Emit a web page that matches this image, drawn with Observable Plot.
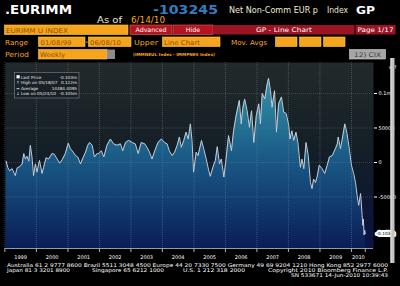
<!DOCTYPE html>
<html>
<head>
<meta charset="utf-8">
<script src="https://cdn.jsdelivr.net/npm/d3@7"></script>
<script src="https://cdn.jsdelivr.net/npm/@observablehq/plot@0.6"></script>
<style>
  html, body { margin: 0; padding: 0; background: #000; width: 400px; height: 286px; overflow: hidden; }
  #wrap { position: relative; width: 400px; height: 286px; background: #000; }
  #chart { position: absolute; left: 0; top: 62px; }
  #chrome { position: absolute; left: 0; top: 0; }
  text { font-family: "DejaVu Sans", sans-serif; }
</style>
</head>
<body>
<div id="wrap">
  <svg width="0" height="0" style="position:absolute">
    <defs>
      <linearGradient id="bgGrad" x1="0" y1="0" x2="0" y2="1">
        <stop offset="0" stop-color="#222a2b"/>
        <stop offset="0.4" stop-color="#162026"/>
        <stop offset="0.62" stop-color="#111b2c"/>
        <stop offset="0.82" stop-color="#0c1638"/>
        <stop offset="1" stop-color="#0a1548"/>
      </linearGradient>
      <linearGradient id="areaGrad" gradientUnits="userSpaceOnUse" x1="0" y1="0" x2="0" y2="186">
        <stop offset="0" stop-color="#3f98b2"/>
        <stop offset="0.2" stop-color="#2c83a0"/>
        <stop offset="0.5" stop-color="#1b5c87"/>
        <stop offset="0.75" stop-color="#113d70"/>
        <stop offset="1" stop-color="#0b1d56"/>
      </linearGradient>
    </defs>
  </svg>
  <div id="chart"></div>
  <svg id="chrome" width="400" height="286"></svg>
</div>
<script>
// ---- data (net non-commercial EUR positions, thousands of contracts)
const weekYears = [
  1999.04,1999.09,1999.15,1999.23,1999.28,1999.33,1999.39,1999.47,1999.55,1999.60,1999.65,1999.70,1999.76,1999.81,1999.86,1999.91,1999.97,
  2000.02,2000.10,2000.18,2000.23,2000.31,2000.39,2000.50,2000.57,2000.66,2000.74,2000.82,2000.92,
  2001.01,2001.08,2001.17,2001.24,2001.31,2001.40,2001.48,2001.56,2001.63,2001.69,2001.77,2001.84,2001.93,2001.98,
  2002.06,2002.14,2002.24,2002.35,2002.45,2002.56,2002.67,2002.74,2002.83,2002.93,
  2003.04,2003.14,2003.23,2003.33,2003.44,2003.51,2003.59,2003.67,2003.76,2003.86,2003.97,
  2004.07,2004.15,2004.22,2004.31,2004.39,2004.47,2004.54,2004.60,2004.68,2004.75,2004.82,2004.89,2004.94,2004.99,
  2005.07,2005.13,2005.24,2005.31,2005.39,2005.47,2005.52,2005.60,2005.68,2005.74,2005.81,2005.87,2005.95,
  2006.02,2006.10,2006.19,2006.26,2006.34,2006.44,2006.50,2006.55,2006.61,2006.69,2006.76,2006.83,2006.90,2006.98,
  2007.06,2007.11,2007.17,2007.25,2007.32,2007.37,2007.43,2007.48,2007.56,2007.62,2007.69,2007.78,2007.85,2007.93,
  2008.01,2008.05,2008.11,2008.17,2008.24,2008.30,2008.38,2008.43,2008.49,2008.56,2008.63,2008.70,2008.75,2008.80,2008.86,2008.91,2008.98,
  2009.07,2009.15,2009.23,2009.30,2009.39,2009.44,2009.49,2009.55,2009.58,2009.65,2009.70,2009.79,2009.86,2009.94,
  2010.00,2010.07,2010.13,2010.18,2010.23,2010.29,2010.34,2010.36,2010.38,2010.40,2010.42,2010.44
];
const netPositions = [
  2,-7,-12,-9,-14,-19,-8,-6,-2,13,5,9,2,25,8,-19,-2,
  -14,3,-16,-7,7,5,13,12,5,-1,4,13,
  28,20,15,10,8,-2,7,15,25,29,25,8,13,13,
  17,8,25,34,27,25,27,17,29,32,
  29,27,13,29,27,22,15,5,17,29,34,
  29,27,17,10,15,25,37,22,32,44,34,56,32,-14,
  15,10,32,20,5,-12,-20,-7,3,23,-2,5,-21,
  5,39,17,46,68,90,56,78,92,75,51,75,29,68,
  85,56,100,92,112,122,104,80,104,44,85,95,73,71,
  54,34,46,32,44,29,-7,5,-9,29,10,-29,-38,-24,-29,-21,-4,
  -9,-16,-4,8,10,15,20,27,37,20,32,56,42,17,
  -4,-16,-29,-48,-62,-45,-77,-91,-82,-105,-98,-103.245
];
const yearLabels = ["1999","2000","2001","2002","2003","2004","2005","2006","2007","2008","2009","2010"];
const yTickValues = [100, 50, 0, -50];
const yTickLabels = ["0.1m", "50000", "0", "-50000"];
const lastPriceLabel = "-0.103m";
const rangeStart = 1999.02, rangeEnd = 2010.70;   // visible window (decimal years)
const yLow = -124.6, yHigh = 144.9;               // visible value window (thousands)

const legendRows = [
  ["Last Price", "-0.103m"],
  ["High on 05/18/07", "0.122m"],
  ["Average", "14484.4095"],
  ["Low on 05/24/10", "-0.105m"]
];

// ---- helpers
const toDate = t => {
  const y = Math.floor(t);
  return new Date(Date.UTC(y, 0, 1) + (t - y) * 365.25 * 864e5);
};
const data = weekYears.map((t, i) => ({date: toDate(t), v: netPositions[i]}));
const lastDate = data[data.length - 1].date;
const lastVal = data[data.length - 1].v;
const yearStarts = yearLabels.map(y => new Date(Date.UTC(+y, 0, 1)));
const tickDates = [...yearStarts, lastDate];
const labelDates = yearStarts.map((d, i) => {
  const end = i < yearStarts.length - 1 ? yearStarts[i + 1] : lastDate;
  return new Date((+d + +end) / 2);
});
const yearLabelMap = new Map(labelDates.map((d, i) => [+d, yearLabels[i]]));
const yLabelMap = new Map(yTickValues.map((v, i) => [v, yTickLabels[i]]));

const chart = Plot.plot({
  width: 400,
  height: 200,
  marginLeft: 5,
  marginRight: 27,
  marginTop: 0,
  marginBottom: 14,
  style: {background: "transparent", color: "#ffffff", fontFamily: "DejaVu Sans", fontSize: "5px", overflow: "visible"},
  x: {type: "utc", domain: [toDate(rangeStart), toDate(rangeEnd)]},
  y: {domain: [yLow, yHigh]},
  marks: [
    Plot.frame({fill: "url(#bgGrad)", stroke: "none"}),
    Plot.areaY(data, {x: "date", y1: yLow, y2: "v", fill: "url(#areaGrad)"}),
    Plot.ruleX(yearStarts, {stroke: "#7a8a96", strokeOpacity: 0.45, strokeDasharray: "1,1"}),
    Plot.ruleY(yTickValues, {stroke: "#7a8a96", strokeOpacity: 0.35, strokeDasharray: "1,1"}),
    Plot.lineY(data, {x: "date", y: "v", stroke: "#c4ccd4", strokeWidth: 1}),
    Plot.ruleY([yLow], {stroke: "#9a9a9a"}),
    Plot.axisX({ticks: tickDates, tickSize: 4, stroke: "#b0b0b0", tickFormat: () => ""}),
    Plot.axisX({ticks: labelDates, tickSize: 0, tickPadding: 7, tickFormat: d => yearLabelMap.get(+d), fill: "#ffffff", fontSize: 5}),
    Plot.axisY({anchor: "right", ticks: yTickValues, tickSize: 3, tickPadding: 2, stroke: "#ffffff",
                tickFormat: d => yLabelMap.get(d), fill: "#ffffff", fontSize: 5}),
    Plot.text([lastVal], {y: d => d, frameAnchor: "right", dx: 3, textAnchor: "start", text: () => lastPriceLabel,
                          fill: "#000000", stroke: "#ffffff", strokeWidth: 4, fontSize: 4.3, clip: false})
  ]
});
document.getElementById("chart").appendChild(chart);

// ---- terminal chrome (header, legend, footer)
const svg = d3.select("#chrome");
const t = (x, y, s, o = {}) => {
  const el = svg.append("text").attr("x", x).attr("y", y).text(s)
    .attr("font-size", o.size || 7).attr("fill", o.fill || "#ffffff")
    .attr("font-weight", o.bold ? "bold" : "normal");
  if (o.len) el.attr("textLength", o.len).attr("lengthAdjust", "spacingAndGlyphs");
  if (o.anchor) el.attr("text-anchor", o.anchor);
  if (o.family) el.attr("font-family", o.family);
  return el;
};
const r = (x, y, w, h, fill, stroke) => svg.append("rect").attr("x", x).attr("y", y).attr("width", w).attr("height", h)
  .attr("fill", fill).attr("stroke", stroke || "none").attr("stroke-width", stroke ? 0.6 : 0);

const ORANGE = "#f7a41d", DARKTXT = "#8a5200", RED = "#b3141f", DRED = "#9a1424";

// row 0
t(5, 14, ".EURIMM", {size: 13, bold: true, len: 67});
t(153, 14, "-103245", {size: 13, bold: true, len: 65, fill: "#2f7fc4"});
t(229, 13, "Net Non-Comm EUR p", {size: 8.5, len: 89, fill: "#efe7d6"});
t(327, 13, "Index", {size: 8.5, len: 21, fill: "#efe7d6"});
t(356, 14, "GP", {size: 11, bold: true, len: 19});
// row 1
t(97, 22.5, "As of", {size: 8.5, len: 25, fill: "#efe7d6"});
t(131, 22.5, "6/14/10", {size: 8.5, len: 34, fill: ORANGE});
// row 2
r(4.5, 25, 123.5, 9.5, ORANGE, "#ffcc66");
t(6, 32.5, "EURIMM U INDEX", {size: 6.5, len: 62, fill: DARKTXT});
r(130, 25, 42, 9.5, RED, "#e06060");
t(151, 32.3, "Advanced", {size: 6.3, anchor: "middle"});
r(173, 25, 40, 9.5, RED, "#e06060");
t(193, 32.3, "Hide", {size: 6.3, anchor: "middle"});
r(213, 25, 142, 9.5, DRED);
t(284, 32.3, "GP - Line Chart", {size: 6.3, anchor: "middle", len: 56});
svg.append("line").attr("x1", 355).attr("x2", 355).attr("y1", 25).attr("y2", 34.5).attr("stroke", "#000");
r(355.5, 25, 40, 9.5, DRED);
t(375.5, 32.3, "Page 1/17", {size: 6.3, anchor: "middle", len: 36});
// row 3
t(5, 45, "Range", {size: 7, fill: ORANGE, len: 23});
r(38.5, 37, 46.5, 9.5, ORANGE, "#ffcc66");
t(40.5, 44.5, "01/08/99", {size: 6.5, fill: DARKTXT, len: 31});
t(85.5, 44, "-", {size: 7, fill: "#ffffff"});
r(88.5, 37, 42.5, 9.5, ORANGE, "#ffcc66");
t(90, 44.5, "06/08/10", {size: 6.5, fill: DARKTXT, len: 31});
t(134, 45, "Upper", {size: 7, fill: ORANGE, len: 24});
r(162.5, 37, 57.5, 9.5, ORANGE, "#ffcc66");
t(164, 44.5, "Line Chart", {size: 6.5, fill: DARKTXT, len: 36});
t(231, 45, "Mov. Avgs", {size: 7, fill: ORANGE, len: 36});
r(275.5, 37, 21.5, 9.5, ORANGE, "#ffcc66");
r(299.5, 37, 21.5, 9.5, ORANGE, "#ffcc66");
r(323.5, 37, 21.5, 9.5, ORANGE, "#ffcc66");
// row 4
t(5, 57, "Period", {size: 7, fill: ORANGE, len: 24});
r(38.5, 49.5, 68.5, 9.5, ORANGE, "#ffcc66");
t(40, 57, "Weekly", {size: 6.5, fill: DARKTXT, len: 25});
r(107, 49.5, 8, 9.5, "#8c8c8c");
t(133, 56, "(IMMNEUL Index - IMMPNES Index)", {size: 4.2, fill: ORANGE, len: 82, bold: true});
r(349.5, 49.5, 36, 9.5, "#a6a6a6", "#d0d0d0");
t(367.5, 57, "12) CIX", {size: 6.3, anchor: "middle", fill: "#3a3a3a", len: 27});

// scrollbar on the right
r(390.5, 58, 4, 205, "#c3c3c3");
r(390.5, 58, 1, 205, "#e6e6e6");

// legend box
r(14.5, 72.5, 64.5, 25.5, "rgba(24,32,38,0.9)", "#7d848c");
legendRows.forEach((row, i) => {
  const y = 78.6 + i * 5.5;
  if (i === 0) r(16.5, y - 3.4, 3.2, 3.2, "#ffffff");
  else t(16.3, y, ["↑", "↔", "↓"][i - 1], {size: 4, fill: "#ffffff"});
  t(21, y, row[0], {size: 4.2, fill: "#e8e8e8"});
  t(77, y, row[1], {size: 4.2, fill: "#e8e8e8", anchor: "end"});
});

// footer
const F = {size: 5.2, fill: "#ffffff"};
t(7, 267.3, "Australia 61 2 9777 8600 Brazil 5511 3048 4500 Europe 44 20 7330 7500 Germany 49 69 9204 1210 Hong Kong 852 2977 6000", {...F, len: 381});
t(7, 272.3, "Japan 81 3 3201 8900", {...F, len: 63});
t(92, 272.3, "Singapore 65 6212 1000", {...F, len: 72});
t(183, 272.3, "U.S. 1 212 318 2000", {...F, len: 62});
t(268, 272.3, "Copyright 2010 Bloomberg Finance L.P.", {...F, len: 120});
t(291, 277, "SN 533671 14-Jun-2010 10:39:43", {...F, len: 97});
</script>
</body>
</html>
